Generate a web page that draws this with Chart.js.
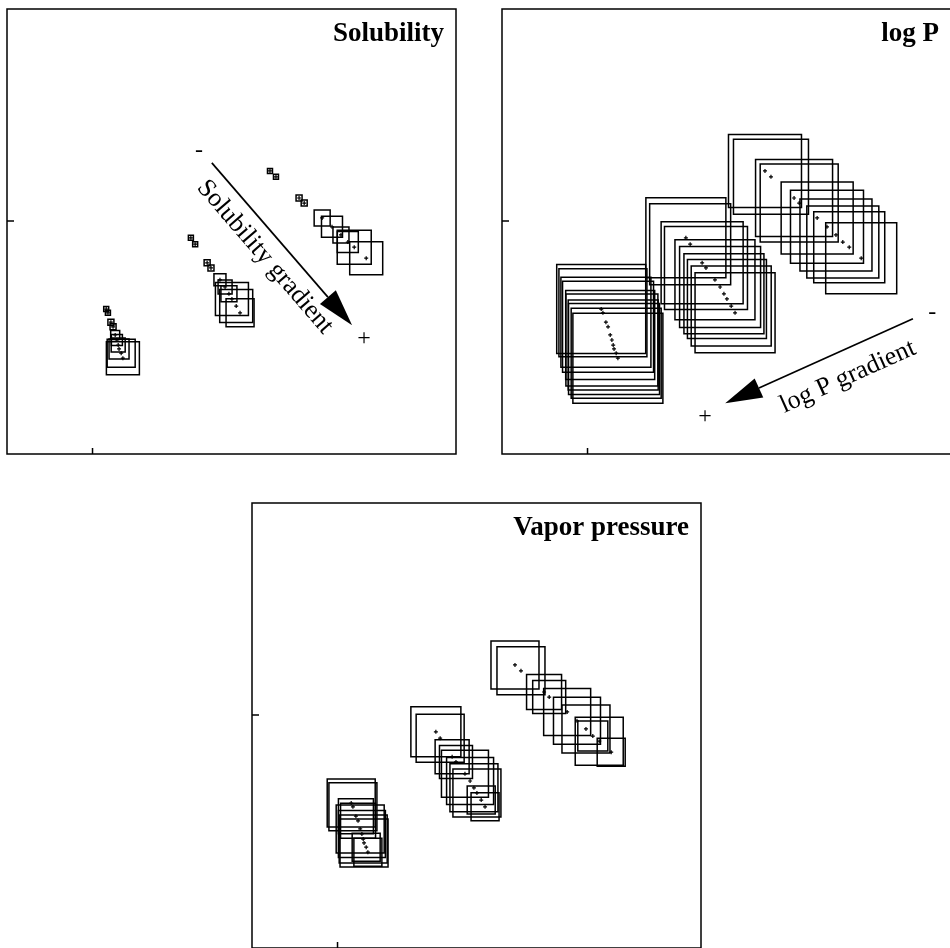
<!DOCTYPE html>
<html>
<head>
<meta charset="utf-8">
<script src="https://cdn.jsdelivr.net/npm/chart.js@4.4.1/dist/chart.umd.min.js"></script>
<style>
  body { margin: 0; background: #fff; width: 950px; height: 948px; overflow: hidden; position: relative; }
  .panel { position: absolute; width: 453px; height: 449px; }
</style>
</head>
<body>
<div class="panel" style="left:5px;top:7px"><canvas id="solChart"></canvas></div>
<div class="panel" style="left:500px;top:7px"><canvas id="logpChart"></canvas></div>
<div class="panel" style="left:250px;top:501px"><canvas id="vpChart"></canvas></div>
<script>
// score coordinates of the compounds (three families of ten)
const scoreX = [
  0.32, 0.36, 0.43, 0.48, 0.53, 0.57, 0.60, 0.62, 0.67, 0.71,
  2.30, 2.40, 2.68, 2.77, 2.98, 3.10, 3.19, 3.26, 3.36, 3.45,
  4.15, 4.29, 4.83, 4.95, 5.37, 5.60, 5.81, 5.97, 6.12, 6.40
];
const scoreY = [
  -2.08, -2.17, -2.39, -2.50, -2.69, -2.81, -2.93, -3.02, -3.12, -3.24,
  -0.40, -0.55, -0.99, -1.11, -1.39, -1.56, -1.72, -1.84, -2.01, -2.17,
  1.18, 1.04, 0.54, 0.42, 0.07, -0.14, -0.33, -0.50, -0.62, -0.88
];

// property values shown by the square size (relative units)
const solubility = [
  0.5, 0.5, 0.6, 0.6, 0.9, 1.1, 1.4, 2.0, 2.8, 3.3,
  0.5, 0.5, 0.6, 0.6, 1.2, 1.4, 1.6, 3.3, 3.3, 2.8,
  0.5, 0.5, 0.6, 0.6, 1.6, 2.1, 1.6, 2.1, 3.4, 3.3
];
const logP = [
  8.9, 8.8, 9.0, 9.1, 8.9, 9.2, 9.0, 9.1, 9.0, 9.0,
  8.0, 8.1, 8.2, 8.3, 8.0, 8.1, 8.0, 7.9, 8.0, 8.0,
  7.3, 7.5, 7.7, 7.8, 7.2, 7.3, 7.2, 7.2, 7.1, 7.1
];
const vaporPressure = [
  4.8, 4.8, 3.5, 3.5, 4.8, 4.7, 4.8, 4.8, 2.8, 2.8,
  5.0, 4.8, 3.4, 3.3, 4.7, 4.7, 4.8, 4.8, 2.8, 2.8,
  4.8, 4.8, 3.5, 3.3, 4.7, 4.7, 4.8, 3.0, 4.8, 2.8
];

const PX_PER_UNIT = 10;   // square side in px per property unit
const INK = '#000';
const SERIF = '"Liberation Serif", "Times New Roman", serif';

// frame, inward zero ticks, title and gradient arrow
const panelDecor = {
  id: 'panelDecor',
  afterDatasetsDraw(chart, args, opts) {
    const { ctx, chartArea: a, scales: { x, y } } = chart;
    ctx.save();
    ctx.strokeStyle = INK;
    ctx.fillStyle = INK;
    ctx.lineWidth = 1.5;
    ctx.strokeRect(a.left, a.top, a.right - a.left, a.bottom - a.top);

    const x0 = x.getPixelForValue(0), y0 = y.getPixelForValue(0);
    ctx.beginPath();
    ctx.moveTo(a.left, y0); ctx.lineTo(a.left + 7, y0);
    ctx.moveTo(x0, a.bottom); ctx.lineTo(x0, a.bottom - 6);
    ctx.stroke();

    ctx.font = 'bold 27px ' + SERIF;
    ctx.textAlign = 'right';
    ctx.textBaseline = 'alphabetic';
    ctx.fillText(opts.title, a.right - 12, a.top + 32);

    const ar = opts.arrow;
    if (ar) {
      const sx = x.getPixelForValue(ar.from[0]), sy = y.getPixelForValue(ar.from[1]);
      const tx = x.getPixelForValue(ar.to[0]), ty = y.getPixelForValue(ar.to[1]);
      const ang = Math.atan2(ty - sy, tx - sx);
      const c = Math.cos(ang), s = Math.sin(ang);
      const hl = 37, hw = 10.5;
      ctx.lineWidth = 1.7;
      ctx.beginPath();
      ctx.moveTo(sx, sy);
      ctx.lineTo(tx - hl * c, ty - hl * s);
      ctx.stroke();
      ctx.beginPath();
      ctx.moveTo(tx, ty);
      ctx.lineTo(tx - hl * c + hw * s, ty - hl * s - hw * c);
      ctx.lineTo(tx - hl * c - hw * s, ty - hl * s + hw * c);
      ctx.closePath();
      ctx.fill();

      // label parallel to the arrow, kept upright
      let ta = ang;
      if (ta > Math.PI / 2) ta -= Math.PI;
      if (ta < -Math.PI / 2) ta += Math.PI;
      ctx.save();
      ctx.translate(x.getPixelForValue(ar.labelAt[0]), y.getPixelForValue(ar.labelAt[1]));
      ctx.rotate(ta);
      ctx.font = '26px ' + SERIF;
      ctx.textAlign = 'center';
      ctx.textBaseline = 'middle';
      ctx.fillText(ar.label, 0, 0);
      ctx.restore();

      ctx.font = '24px ' + SERIF;
      ctx.textAlign = 'center';
      ctx.textBaseline = 'middle';
      ctx.fillText('-', x.getPixelForValue(ar.minusAt[0]), y.getPixelForValue(ar.minusAt[1]));
      ctx.fillText('+', x.getPixelForValue(ar.plusAt[0]), y.getPixelForValue(ar.plusAt[1]));
    }
    ctx.restore();
  }
};

function makePanel(id, title, sizes, arrow) {
  const pts = scoreX.map((v, i) => ({ x: v, y: scoreY[i] }));
  return new Chart(document.getElementById(id), {
    type: 'scatter',
    data: {
      datasets: [
        {
          label: title,
          data: pts,
          pointStyle: 'rect',
          pointRadius: sizes.map(v => v * PX_PER_UNIT / Math.SQRT2),
          pointBackgroundColor: 'rgba(0,0,0,0)',
          pointBorderColor: INK,
          pointBorderWidth: 1.5
        },
        {
          label: 'compounds',
          data: pts,
          pointStyle: 'cross',
          pointRadius: 2,
          pointBorderColor: INK,
          pointBorderWidth: 1.2
        }
      ]
    },
    options: {
      responsive: true,
      maintainAspectRatio: false,
      animation: false,
      devicePixelRatio: 1,
      layout: { autoPadding: false, padding: 2 },
      scales: {
        x: { type: 'linear', min: -2, max: 8.5, display: false },
        y: { type: 'linear', min: -5.5, max: 5, display: false }
      },
      plugins: {
        legend: { display: false },
        tooltip: { enabled: false },
        panelDecor: { title: title, arrow: arrow }
      }
    },
    plugins: [panelDecor]
  });
}

document.addEventListener('DOMContentLoaded', () => {
  makePanel('solChart', 'Solubility', solubility, {
    from: [2.79, 1.37], to: [6.07, -2.46],
    minusAt: [2.49, 1.65], plusAt: [6.35, -2.79],
    label: 'Solubility gradient', labelAt: [4.03, -0.85]
  });
  makePanel('logpChart', 'log P', logP, {
    from: [7.61, -2.31], to: [3.22, -4.30],
    minusAt: [8.06, -2.17], plusAt: [2.75, -4.63],
    label: 'log P gradient', labelAt: [6.09, -3.68]
  });
  makePanel('vpChart', 'Vapor pressure', vaporPressure, null);
});
</script>
</body>
</html>
